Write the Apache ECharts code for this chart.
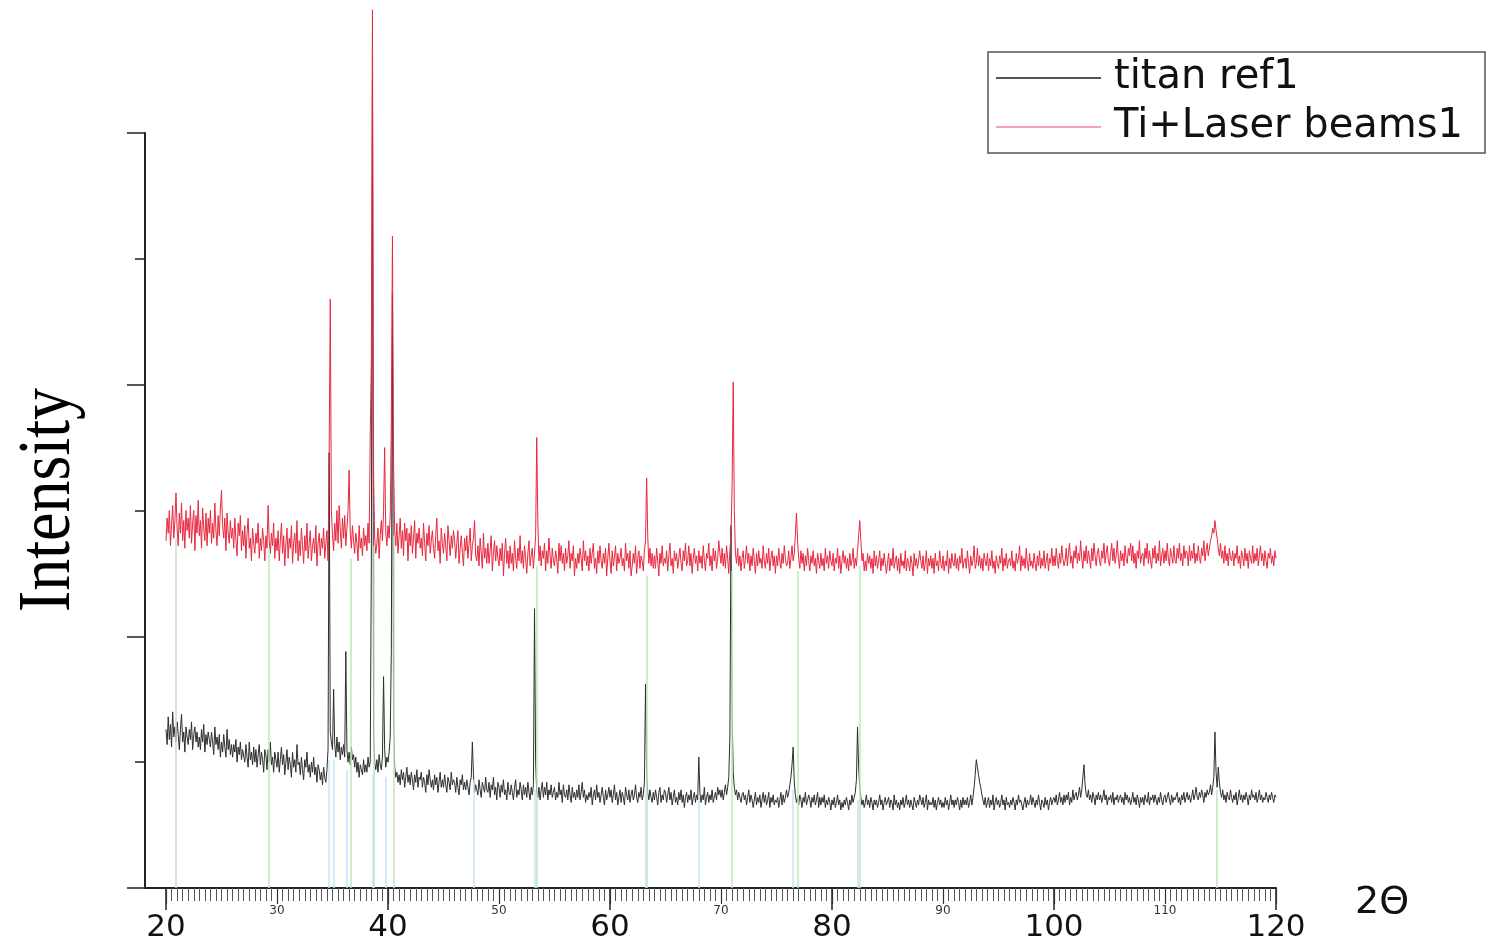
<!DOCTYPE html>
<html><head><meta charset="utf-8">
<script src="https://cdn.jsdelivr.net/npm/echarts@6/dist/echarts.min.js"></script>
<style>html,body{margin:0;padding:0;background:#fff}#c{width:1488px;height:944px}</style>
</head><body><div id="c"></div>
<script>
// 2θ grid: starts at 20°, one value every 0.1°
const X_START = 20, X_STEP = 0.1;

const titanRef1 = [
63,57,68,59,65,56,70,60,64,58,
66,61,55,63,69,58,62,54,64,60,
57,63,59,66,55,61,64,58,62,56,
60,55,63,58,65,54,61,57,62,59,
56,62,58,53,64,57,60,55,61,52,
58,54,61,56,52,63,55,59,53,57,
52,57,54,59,50,56,53,58,51,55,
55,50,57,52,48,58,51,54,49,56,
50,55,48,53,57,49,54,51,46,55,
53,47,55,50,58,49,52,46,54,51,
48,54,46,51,56,49,53,45,50,55,
47,52,49,44,54,48,51,46,57,49,
50,45,52,47,43,51,48,54,46,49,
44,50,46,52,45,48,42,49,47,43,
46,41,48,44,42,47,55,173,62,58,
55,79,57,52,60,54,58,51,56,53,
57,52,94,55,50,54,49,56,51,53,
48,52,46,50,44,49,47,45,51,46,
49,46,52,48,50,130,321,62,50,47,
51,46,53,49,47,52,84,55,48,52,
50,54,60,95,236,70,48,44,46,42,
45,41,47,43,46,40,44,48,42,45,
41,46,43,39,45,42,47,40,44,43,
46,40,44,42,38,45,41,47,43,40,
43,39,45,41,44,38,42,46,40,43,
40,45,41,38,44,42,39,46,41,43,
42,38,44,40,37,43,41,45,39,42,
39,43,40,37,42,44,58,45,38,41,
41,37,43,39,36,42,40,38,44,39,
38,42,36,41,39,44,37,40,35,42,
40,36,41,38,43,37,39,35,42,38,
37,41,38,35,40,43,36,39,37,42,
39,35,41,37,40,36,42,38,35,40,
37,41,111,50,38,36,40,35,39,42,
36,40,37,42,35,39,37,41,36,38,
40,35,38,36,42,37,39,34,41,37,
36,39,35,41,37,34,40,36,38,35,
39,36,41,35,38,42,36,39,34,37,
35,38,36,40,33,37,39,35,41,36,
38,34,37,40,36,33,39,35,37,40,
36,39,34,37,41,35,38,33,36,39,
34,38,36,33,40,37,35,39,34,37,
39,35,37,41,36,34,38,36,40,35,
37,42,81,46,38,35,39,36,34,38,
35,39,36,33,38,40,34,37,35,39,
38,34,37,40,35,38,33,36,39,34,
36,33,38,35,39,34,37,32,36,38,
34,37,35,39,33,36,38,34,37,35,
52,38,34,37,35,40,33,36,38,34,
37,35,39,34,36,38,35,40,37,39,
36,39,35,38,41,37,40,44,60,144,
70,46,40,37,39,35,38,36,34,37,
38,35,37,33,36,39,34,37,35,32,
35,38,33,36,34,37,32,35,38,34,
37,33,35,38,32,36,34,37,33,35,
34,36,32,35,38,33,37,34,36,39,
36,38,41,44,49,56,42,37,34,36,
33,37,35,32,36,34,38,33,35,37,
35,32,36,34,37,33,35,38,32,36,
33,36,34,37,32,35,33,36,34,31,
35,33,36,32,34,37,33,35,31,34,
32,35,33,36,34,31,35,33,37,34,
36,38,43,64,48,40,36,33,35,32,
34,37,33,35,32,36,34,31,35,33,
35,32,34,37,33,35,31,34,36,33,
33,36,32,35,34,31,37,33,35,32,
34,31,35,33,36,32,34,37,33,35,
32,35,33,31,36,34,32,35,33,37,
35,33,36,32,34,37,31,35,33,34,
33,36,32,35,31,34,36,33,35,32,
34,32,36,33,35,31,34,37,33,35,
32,35,33,36,34,31,35,32,36,33,
35,33,36,32,34,37,33,36,40,45,
51,48,45,42,40,37,35,33,36,32,
34,36,32,35,33,37,31,34,36,33,
35,32,34,37,33,35,31,36,33,34,
32,35,33,36,34,31,35,33,37,34,
35,33,31,34,36,32,35,33,34,37,
33,36,34,32,35,33,37,34,31,35,
34,32,36,33,35,31,34,36,33,35,
36,34,37,33,35,38,34,36,33,37,
34,37,35,38,33,36,34,39,35,37,
38,35,37,40,36,39,44,49,41,37,
36,39,35,37,34,38,36,33,37,35,
38,35,37,34,36,39,35,37,33,36,
35,37,34,38,33,36,35,37,34,36,
37,34,36,33,38,35,37,34,36,33,
35,38,34,36,33,37,35,32,36,34,
36,33,37,35,34,38,33,36,35,37,
34,37,35,33,36,34,38,35,33,36,
37,34,36,38,35,33,37,34,36,35,
35,38,34,36,33,37,35,38,34,36,
38,35,37,34,36,39,35,37,40,36,
35,38,36,39,37,34,38,36,39,37,
38,41,37,40,44,62,46,40,48,42,
38,36,39,35,37,34,38,36,35,39,
36,34,37,35,38,33,36,39,35,37,
34,37,35,38,36,33,37,35,39,36,
37,35,38,34,36,39,35,37,34,36,
35,38,36,34,37,35,38,36,34,37,
36
];

const tiLaserBeams1 = [
138,147,141,150,136,144,152,139,146,157,
143,136,149,141,153,138,146,135,150,142,
147,139,152,137,145,150,134,148,141,154,
140,146,135,151,143,138,149,136,147,141,
150,137,145,139,153,142,136,148,140,151,
158,144,139,147,134,149,141,137,146,139,
143,135,147,138,132,145,140,148,134,142,
136,144,131,141,147,135,139,130,143,137,
133,141,137,145,131,139,134,143,138,130,
140,135,152,138,133,141,136,145,131,139,
134,142,130,138,145,133,140,128,137,143,
131,139,135,144,129,137,141,133,146,130,
138,132,143,136,129,140,134,145,131,137,
142,130,136,139,133,144,128,137,141,132,
139,135,143,131,137,142,130,173,234,150,
140,134,145,138,150,137,152,142,135,147,
139,148,136,143,150,166,141,135,144,138,
133,141,137,130,144,135,139,132,143,136,
140,134,145,137,180,210,349,165,139,133,
137,143,131,140,146,138,150,175,141,136,
144,139,148,185,259,170,142,136,145,133,
140,147,135,142,132,145,138,143,130,141,
136,144,133,139,146,131,141,137,143,135,
139,132,145,137,130,141,136,144,133,138,
142,135,131,140,147,134,138,129,143,137,
133,141,136,130,144,138,132,140,135,142,
138,131,137,142,129,135,140,133,128,139,
134,140,131,137,143,130,136,139,146,132,
130,136,128,139,133,127,141,131,135,129,
137,129,134,140,126,133,138,130,136,131,
128,135,130,137,124,133,139,129,134,127,
136,129,133,126,138,131,127,135,130,140,
129,134,127,136,131,125,133,138,128,132,
135,127,133,140,179,145,130,136,128,134,
131,137,126,134,129,139,132,127,135,130,
128,134,131,125,137,130,136,129,133,126,
135,129,132,138,127,133,130,136,124,131,
127,133,129,135,131,126,138,130,134,128,
132,126,135,129,133,137,127,131,125,134,
129,136,130,127,133,129,135,124,131,137,
130,125,134,128,132,136,126,133,129,131,
135,128,131,126,137,130,133,127,134,124,
128,133,129,136,125,131,134,127,132,130,
126,134,138,163,140,129,135,128,133,127,
132,127,135,130,124,133,129,136,128,131,
129,134,126,132,137,128,131,125,134,130,
133,127,131,135,129,126,134,130,137,128,
130,136,128,133,125,131,135,129,132,126,
134,129,132,127,136,130,126,133,131,137,
128,132,126,135,130,134,127,131,138,133,
129,135,128,133,127,136,131,125,134,140,
160,201,150,133,129,135,128,132,126,131,
134,127,131,136,129,133,126,132,128,135,
130,125,133,128,134,129,131,127,136,130,
127,133,129,135,126,131,134,128,132,125,
132,128,135,130,127,133,129,136,131,128,
129,134,127,131,136,130,133,140,149,138,
131,127,134,129,133,126,132,128,135,130,
126,132,129,134,128,131,125,133,130,127,
133,128,131,126,135,129,132,127,134,130,
128,133,126,131,129,135,127,132,125,130,
134,129,132,127,131,126,133,128,130,135,
127,131,128,134,140,146,138,130,133,126,
130,126,133,129,132,127,131,125,134,128,
132,127,130,134,126,131,128,133,129,125,
129,133,126,131,128,135,127,130,132,126,
131,125,133,128,130,127,134,126,131,129,
126,132,129,124,133,128,131,127,130,134,
130,127,132,126,129,134,125,131,128,132,
127,131,125,133,128,130,126,134,129,127,
132,126,130,128,134,125,131,127,133,129,
128,133,127,131,126,132,129,135,127,130,
131,127,134,129,125,132,128,130,136,127,
129,135,128,132,127,131,126,133,130,128,
133,126,131,128,134,127,130,125,132,129,
127,132,129,135,126,131,128,133,127,130,
131,128,134,127,130,126,133,129,131,136,
126,132,128,131,127,135,129,126,133,128,
130,127,133,129,126,132,128,134,127,131,
128,134,127,130,133,126,131,129,135,128,
132,128,135,130,127,133,129,136,131,128,
130,135,128,133,137,129,132,127,134,131,
136,129,133,130,138,131,127,134,130,136,
129,134,131,127,135,130,137,132,128,133,
135,130,128,134,131,137,129,133,136,130,
128,133,137,130,135,129,132,138,131,127,
134,130,133,128,136,131,129,135,132,137,
130,136,129,133,127,134,131,138,129,132,
133,128,135,131,137,129,134,130,127,135,
131,136,129,133,130,138,128,132,135,129,
134,130,137,131,128,135,132,129,136,130,
129,135,131,137,130,133,128,136,131,134,
133,128,136,130,134,131,137,129,133,130,
136,131,129,135,132,138,130,134,137,132,
135,138,140,143,141,146,142,139,135,132,
137,131,134,129,136,130,133,128,135,131,
130,134,128,133,131,136,129,132,127,134,
132,128,135,130,133,127,134,131,129,136,
129,133,130,135,128,132,136,130,133,128,
134,130,127,133,131,135,129,132,128,134,
131
];

// reference stick lines: [2θ, top intensity]
const greenRefs = [[20.9,139],[29.3,135],[36.6,131],[38.7,136],[40.5,140],[53.4,128],[63.3,124],[71.0,126],[76.9,126],[82.5,128],[114.7,39]];
const blueRefs = [[34.7,51],[35.1,51],[36.3,47],[38.6,45],[39.8,44],[47.7,43],[53.2,39],[63.2,39],[68.0,36],[76.5,39],[82.3,35]];

const bigTickLabels = [20,40,60,80,100,120];
const smallTickLabels = [30,50,70,90,110];

const toPairs = arr => arr.map((v,i)=>[+(X_START + i*X_STEP).toFixed(1), v]);

const refLines = [
  ...greenRefs.map(([x,t])=>[{coord:[x,0],lineStyle:{color:'#bfe6bf',width:1.5,type:'solid'}},{coord:[x,t]}]),
  ...blueRefs.map(([x,t])=>[{coord:[x,0],lineStyle:{color:'#c4e4f4',width:1.5,type:'solid'}},{coord:[x,t]}])
];

const chart = echarts.init(document.getElementById('c'), null, {renderer:'canvas'});
chart.setOption({
  animation:false,
  backgroundColor:'#fff',
  grid:[
    {left:166, right:212, top:7.2, bottom:56},
    {left:145, right:212, top:133, bottom:56}
  ],
  xAxis:[
    {type:'value', gridIndex:0, position:'bottom', min:20, max:120, interval:20,
     axisLine:{show:false},
     axisTick:{show:true, length:22, lineStyle:{color:'#222', width:1.5}},
     minorTick:{show:true, splitNumber:40, length:13, lineStyle:{color:'#555', width:1}},
     axisLabel:{show:true, margin:24, fontSize:31, fontFamily:'DejaVu Sans', color:'#111',
       formatter:v=>bigTickLabels.includes(v)?String(v):''},
     splitLine:{show:false}, minorSplitLine:{show:false}},
    {type:'value', gridIndex:0, position:'bottom', offset:0, min:20, max:120, interval:10,
     axisLine:{show:false},
     axisTick:{show:true, length:16, lineStyle:{color:'#333', width:1.2}},
     axisLabel:{show:true, margin:17, fontSize:12, fontFamily:'DejaVu Sans', color:'#333',
       formatter:v=>smallTickLabels.includes(v)?String(v):''},
     splitLine:{show:false}},
    {type:'value', gridIndex:1, position:'bottom', min:0, max:1,
     axisLine:{show:true, lineStyle:{color:'#222', width:2}},
     axisTick:{show:false}, axisLabel:{show:false}, splitLine:{show:false}}
  ],
  yAxis:[
    {type:'value', gridIndex:0, min:0, max:350, show:false},
    {type:'value', gridIndex:1, min:0, max:300, interval:100,
     axisLine:{show:true, lineStyle:{color:'#222', width:2}},
     axisTick:{show:true, length:18, lineStyle:{color:'#222', width:1.5}},
     minorTick:{show:true, splitNumber:2, length:10, lineStyle:{color:'#222', width:1.5}},
     axisLabel:{show:false}, splitLine:{show:false}, minorSplitLine:{show:false}}
  ],
  legend:{
    data:[{name:'titan ref1', lineStyle:{color:'#555'}, itemStyle:{opacity:0}},
          {name:'Ti+Laser beams1', lineStyle:{color:'#f3a3b3'}, itemStyle:{opacity:0}}],
    orient:'vertical', left:988, top:52,
    itemWidth:105, itemHeight:14, itemGap:9,
    padding:[6,22,6,7],
    borderColor:'#555', borderWidth:1.5,
    textStyle:{fontFamily:'DejaVu Sans', fontSize:40, lineHeight:40, color:'#111', padding:[0,0,0,8]}
  },
  graphic:[
    {type:'text', x:50, y:500, rotation:Math.PI/2, scaleY:1.15,
     style:{text:'Intensity', fontSize:64, fontFamily:'Liberation Serif', fill:'#000', align:'center', verticalAlign:'middle'}},
    {type:'text', x:1355, y:903,
     style:{text:'2Θ', fontSize:38, fontFamily:'DejaVu Sans', fill:'#111', align:'left', verticalAlign:'middle'}}
  ],
  series:[
    {type:'line', name:'refs', xAxisIndex:0, yAxisIndex:0, data:[], z:1, silent:true,
     markLine:{silent:true, symbol:'none', label:{show:false}, data:refLines}},
    {type:'line', name:'titan ref1', xAxisIndex:0, yAxisIndex:0, data:toPairs(titanRef1),
     symbol:'none', z:3, lineStyle:{color:'#2e2e2e', width:1}, itemStyle:{color:'#2e2e2e'}},
    {type:'line', name:'Ti+Laser beams1', xAxisIndex:0, yAxisIndex:0, data:toPairs(tiLaserBeams1),
     symbol:'none', z:4, lineStyle:{color:'#e8283e', width:1}, itemStyle:{color:'#e8283e'}}
  ]
});
</script></body></html>
